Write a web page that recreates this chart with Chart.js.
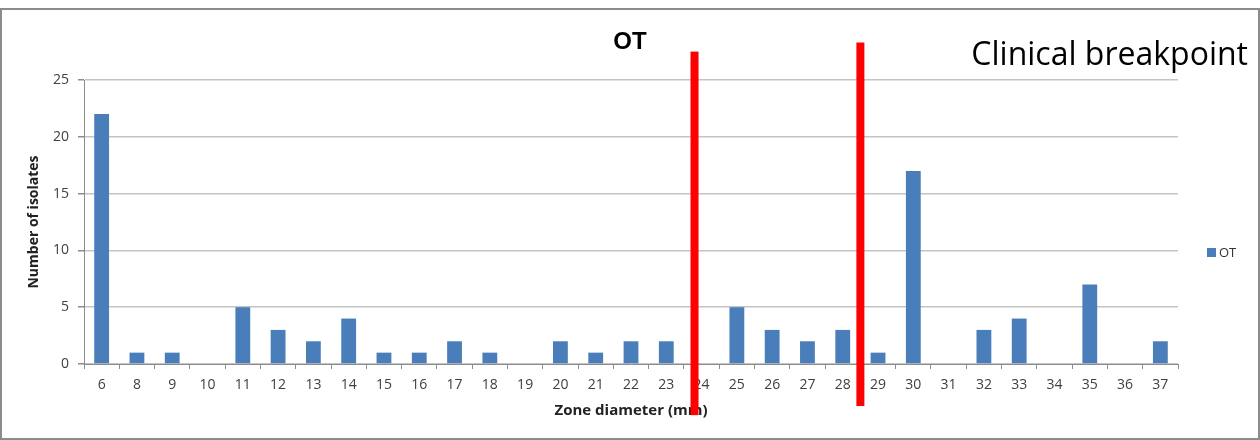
<!DOCTYPE html>
<html>
<head>
<meta charset="utf-8">
<title>OT</title>
<script src="https://cdn.jsdelivr.net/npm/chart.js@4.4.1/dist/chart.umd.min.js"></script>
<style>
  html, body { margin: 0; padding: 0; background: #fff; }
  #wrap { position: relative; width: 1260px; height: 440px; }
</style>
</head>
<body>
<div id="wrap"><canvas id="otChart" width="1260" height="440"></canvas></div>
<script>
// Zone diameter categories (no 7 mm in the data)
const zoneDiameters = ['6', '8', '9', '10', '11', '12', '13', '14', '15', '16', '17', '18', '19', '20', '21',
    '22', '23', '24', '25', '26', '27', '28', '29', '30', '31', '32', '33', '34', '35', '36', '37'];
const isolateCounts = [22, 1, 1, 0, 5, 3, 2, 4, 1, 1, 2, 1, 0, 2, 1,
    2, 2, 0, 5, 3, 2, 3, 1, 17, 0, 3, 4, 0, 7, 0, 2];
const yTicks = [0, 5, 10, 15, 20, 25];

// Clinical breakpoint markers, in category-index units (fractional = between labels)
const breakpointPositions = [16.8, 21.5];
const breakpointTop = [27.5, 28.3];      // in y-axis units
const breakpointBottom = [-4.5, -3.7];

const barColor = '#4a7ebb';
const fontFamily = '"Open Sans", "Noto Sans", Arial, sans-serif';

// light frame around the whole chart (like the Excel chart border)
const framePlugin = {
    id: 'frame',
    beforeDraw(chart) {
        const c = chart.ctx;
        c.save();
        c.fillStyle = '#fff';
        c.fillRect(0, 0, chart.width, chart.height);
        c.strokeStyle = '#8c8c8c';
        c.lineWidth = 2;
        c.strokeRect(1, 9, chart.width - 2, chart.height - 10);
        c.restore();
    }
};

// red breakpoint bars + caption
const breakpointPlugin = {
    id: 'breakpoints',
    afterDraw(chart) {
        const c = chart.ctx;
        const x = chart.scales.x, y = chart.scales.y;
        c.save();
        c.fillStyle = '#ff0000';
        breakpointPositions.forEach((pos, i) => {
            const px = x.getPixelForValue(pos);
            const top = y.getPixelForValue(breakpointTop[i]);
            const bottom = y.getPixelForValue(breakpointBottom[i]);
            c.fillRect(px - 4, top, 8, bottom - top);
        });
        c.fillStyle = '#000';
        c.font = '32px ' + fontFamily;
        c.textAlign = 'right';
        c.textBaseline = 'alphabetic';
        c.fillText('Clinical breakpoint', chart.width - 12, 65);
        c.restore();
    }
};

// small legend on the right, drawn from the dataset itself
const sideLegendPlugin = {
    id: 'sideLegend',
    afterDraw(chart) {
        const c = chart.ctx;
        const ds = chart.data.datasets[0];
        const area = chart.chartArea;
        const lx = area.right + 29;
        const ly = (area.top + area.bottom) / 2 + 30;
        c.save();
        c.fillStyle = ds.backgroundColor;
        c.fillRect(lx, ly - 4, 9, 9);
        c.fillStyle = '#333';
        c.font = '13px ' + fontFamily;
        c.textAlign = 'left';
        c.textBaseline = 'middle';
        c.fillText(ds.label, lx + 12, ly + 1);
        c.restore();
    }
};

const ctx = document.getElementById('otChart').getContext('2d');
const otChart = new Chart(ctx, {
    type: 'bar',
    data: {
        labels: zoneDiameters,
        datasets: [{
            label: 'OT',
            data: isolateCounts,
            backgroundColor: barColor,
            borderWidth: 0,
            barPercentage: 0.42,
            categoryPercentage: 1.0
        }]
    },
    options: {
        responsive: false,
        animation: false,
        devicePixelRatio: 1,
        layout: { padding: 0 },
        plugins: {
            legend: { display: false },
            tooltip: { enabled: false },
            title: {
                display: true,
                text: 'OT',
                color: '#000',
                font: { family: 'Arial, "Liberation Sans", sans-serif', size: 24, weight: 'bold', lineHeight: 1.2 },
                padding: { top: 27.6, bottom: 23.6 }
            }
        },
        scales: {
            x: {
                offset: true,
                grid: {
                    display: true,
                    offset: true,
                    drawOnChartArea: false,
                    drawTicks: true,
                    tickLength: 5,
                    color: '#8c8c8c'
                },
                border: { display: true, color: '#8c8c8c', width: 1 },
                ticks: {
                    color: '#404040',
                    font: { family: fontFamily, size: 14 },
                    padding: 8,
                    maxRotation: 0,
                    autoSkip: false
                },
                title: {
                    display: true,
                    text: 'Zone diameter (mm)',
                    color: '#222',
                    font: { family: fontFamily, size: 15, weight: 'bold', lineHeight: 1.2 },
                    padding: { top: 0, bottom: 20 }
                },
                afterFit(scale) { scale.height = 76; }
            },
            y: {
                min: 0,
                max: 25,
                afterBuildTicks(scale) { scale.ticks = yTicks.map(v => ({ value: v })); },
                grid: {
                    color: '#c4c4c4',
                    lineWidth: 1.5,
                    tickLength: 6,
                    tickColor: '#8c8c8c'
                },
                border: { display: true, color: '#8c8c8c', width: 1 },
                ticks: {
                    color: '#404040',
                    font: { family: fontFamily, size: 14 },
                    padding: 9
                },
                title: {
                    display: true,
                    text: 'Number of isolates',
                    color: '#222',
                    font: { family: fontFamily, size: 14, weight: 'bold', lineHeight: 1.2 },
                    padding: { top: 25.6, bottom: 0 }
                },
                afterFit(scale) { scale.width = 84; }
            },
            // empty right-hand axis that only reserves the legend column
            legendSpace: {
                type: 'linear',
                position: 'right',
                display: true,
                grid: { display: false },
                border: { display: false },
                ticks: { display: false },
                afterFit(scale) { scale.width = 82; }
            }
        }
    },
    plugins: [framePlugin, breakpointPlugin, sideLegendPlugin]
});
</script>
</body>
</html>
